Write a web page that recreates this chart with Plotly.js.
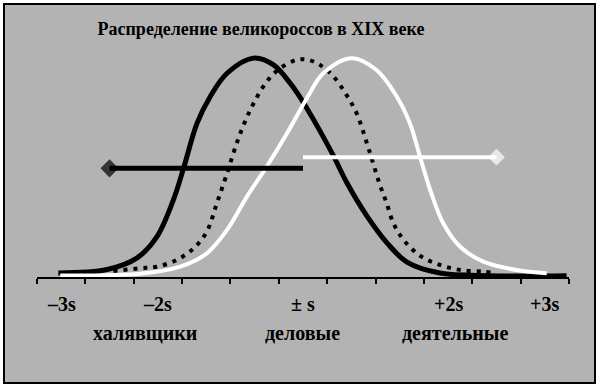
<!DOCTYPE html>
<html>
<head>
<meta charset="utf-8">
<script src="https://cdn.plot.ly/plotly-3.0.1.min.js"></script>
<style>html,body{margin:0;padding:0;background:#fff;}#chart{width:600px;height:389px;}</style>
</head>
<body>
<div id="chart"></div>
<script>
// Axis positions (category-like units along the x axis)
const axisTicks = [0,1,2,3,4,5,6,7,8,9,10,11];
const sigmaLabels = ['–3s','–2s','± s','+2s','+3s'];
const sigmaPos = [0.5, 2.5, 5.5, 8.5, 10.5];
const groupLabels = ['халявщики','деловые','деятельные'];
const groupPos = [2.24, 5.48, 8.64];

// Black solid curve
const blackX = [0.44,1.45,2.07,2.48,2.82,3.03,3.31,3.58,3.93,4.48,4.89,5.23,5.38,5.65,5.85,6.12,6.41,6.82,7.24,7.65,8.33,9.37,10.95];
const blackY = [1.8,3.4,8.7,18.4,35.2,49.6,70.2,82.3,93.0,99.9,96.8,88.6,84.0,74.4,66.7,55.7,42.9,27.9,15.5,6.8,1.8,0.6,0.6];

// Dotted curve
const dotX = [1.58,2.13,2.48,2.89,3.24,3.51,3.72,3.93,4.13,4.30,4.48,4.75,5.03,5.37,5.61,5.85,6.13,6.40,6.61,6.82,6.95,7.09,7.23,7.37,7.61,7.95,8.33,8.75,9.23,9.40];
const dotY = [2.7,4.0,4.7,7.8,13.1,20.7,33.7,47.4,61.1,70.9,79.3,89.2,95.3,99.1,99.1,96.8,91.5,83.1,74.7,61.1,51.9,42.0,33.7,24.5,16.1,9.3,5.5,3.2,2.4,2.0];

// White curve
const whiteX = [0.48,2.13,2.96,3.51,3.93,4.34,4.75,5.17,5.58,5.92,6.51,7.02,7.44,7.71,7.92,8.13,8.40,8.75,9.23,9.92,10.54];
const whiteY = [0.7,1.5,4.7,10.8,21.5,36.7,50.4,65.6,81.6,93.0,99.9,94.5,82.3,70.2,54.9,39.7,24.5,13.8,7.0,3.2,1.7];

// Horizontal range bars
const blackBarX = [1.5, 5.5];
const blackBarY = [49.6, 49.6];
const whiteBarX = [5.5, 9.5];
const whiteBarY = [54.7, 54.7];

const serif = 'Liberation Serif, Times New Roman, serif';

const traces = [
  {x: blackX, y: blackY, mode: 'lines', line: {color: '#000', width: 5, shape: 'spline', smoothing: 1}, hoverinfo: 'skip'},
  {x: dotX, y: dotY, mode: 'lines', line: {color: '#000', width: 4, dash: '4px,6px', shape: 'spline', smoothing: 1}, hoverinfo: 'skip'},
  {x: whiteX, y: whiteY, mode: 'lines', line: {color: '#fff', width: 4, shape: 'spline', smoothing: 1}, hoverinfo: 'skip'},
  {x: blackBarX, y: blackBarY, mode: 'lines+markers', line: {color: '#000', width: 5},
   marker: {symbol: 'diamond', size: [14, 0], color: '#000', line: {width: 0}}, hoverinfo: 'skip'},
  {x: whiteBarX, y: whiteBarY, mode: 'lines+markers', line: {color: '#fff', width: 4},
   marker: {symbol: 'diamond', size: [0, 13], color: '#fff', line: {width: 0}}, hoverinfo: 'skip'}
];

const L = 37, R = 31, T = 36, B = 112, W = 600, H = 389;
const pw = W - L - R, ph = H - T - B;

const annotations = [];
sigmaLabels.forEach((t, i) => annotations.push({
  x: sigmaPos[i], xref: 'x', y: -27 / ph, yref: 'paper', text: t, showarrow: false,
  xanchor: 'center', yanchor: 'middle', font: {family: serif, size: 20, color: '#000', weight: 700}
}));
groupLabels.forEach((t, i) => annotations.push({
  x: groupPos[i], xref: 'x', y: -56 / ph, yref: 'paper', text: t, showarrow: false,
  xanchor: 'center', yanchor: 'middle', font: {family: serif, size: 20, color: '#000', weight: 700}
}));

const layout = {
  width: W, height: H,
  margin: {l: L, r: R, t: T, b: B, pad: 0},
  paper_bgcolor: '#ffffff',
  plot_bgcolor: 'rgba(0,0,0,0)',
  showlegend: false,
  title: {
    text: 'Распределение великороссов в XIX веке',
    x: 261 / W, xanchor: 'center', xref: 'container',
    y: 1 - 29 / H, yanchor: 'middle', yref: 'container',
    font: {family: serif, size: 18, color: '#000', weight: 700}
  },
  xaxis: {
    range: [0, 11], showgrid: false, zeroline: false,
    tickmode: 'array', tickvals: axisTicks, showticklabels: false,
    ticks: 'outside', ticklen: 5, tickwidth: 2, tickcolor: '#000',
    showline: true, linecolor: '#000', linewidth: 2, fixedrange: true
  },
  yaxis: {range: [0, 110], visible: false, fixedrange: true},
  shapes: [{
    type: 'rect', xref: 'paper', yref: 'paper', layer: 'below',
    x0: (4 - L) / pw, x1: (595 - L) / pw,
    y0: (H - B - 383) / ph, y1: (H - B - 4) / ph,
    fillcolor: '#b3b3b3', line: {color: '#000', width: 2}
  }],
  annotations: annotations
};

Plotly.newPlot('chart', traces, layout, {displayModeBar: false, staticPlot: true});
</script>
</body>
</html>
